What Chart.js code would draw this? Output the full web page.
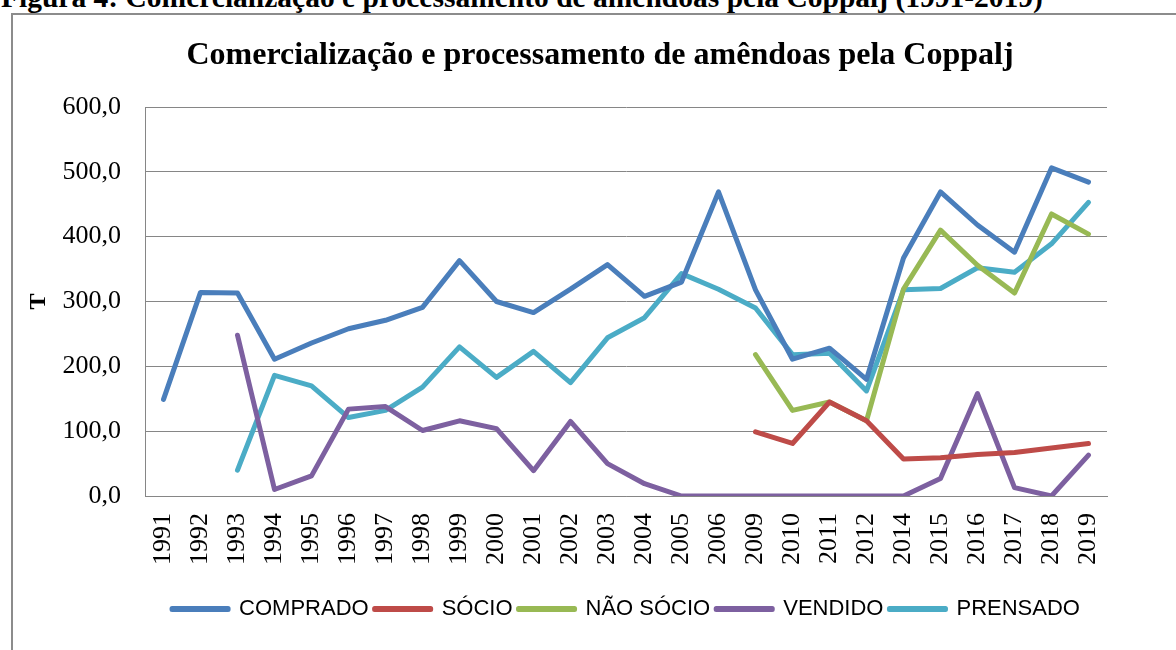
<!DOCTYPE html>
<html lang="pt-BR">
<head>
<meta charset="utf-8">
<title>Comercialização e processamento de amêndoas pela Coppalj</title>
<script src="https://cdn.jsdelivr.net/npm/chart.js@4.4.1/dist/chart.umd.min.js"></script>
<style>
  html, body { margin: 0; padding: 0; background: #fff; }
  body { width: 1176px; height: 650px; position: relative; overflow: hidden; font-family: 'Liberation Serif', 'Times New Roman', serif; color: #000; }
  #caption { position: absolute; left: 1px; top: -18px; font-size: 29.5px; line-height: 30px; font-weight: bold; white-space: nowrap; }
  #frame { position: absolute; left: 11px; top: 13px; right: -4px; bottom: -4px; border-left: 2px solid #8c8c8c; border-top: 2px solid #8c8c8c; }
  #title { position: absolute; left: 0; width: 1200px; top: 37px; text-align: center; font-size: 32px; line-height: 32px; font-weight: bold; white-space: nowrap; }
  #wrap { position: absolute; left: 0; top: 0; width: 1176px; height: 650px; }
</style>
</head>
<body>
<div id="caption">Figura 4: Comercialização e processamento de amêndoas pela Coppalj (1991-2019)</div>
<div id="frame"></div>
<div id="wrap"><canvas id="chart" width="1176" height="650"></canvas></div>
<div id="title">Comercialização e processamento de amêndoas pela Coppalj</div>

<script>
// anos (2007, 2008 e 2013 não aparecem no gráfico)
const YEARS = ['1991', '1992', '1993', '1994', '1995', '1996', '1997', '1998', '1999', '2000',
               '2001', '2002', '2003', '2004', '2005', '2006', '2009', '2010', '2011', '2012',
               '2014', '2015', '2016', '2017', '2018', '2019'];

const COMPRADO = [149, 314, 313, 211, 236, 258, 271, 291, 363, 300,
                  283, 319, 357, 308, 330, 469, 318, 211, 228, 180,
                  367, 469, 418, 376, 506, 484];

const SOCIO = [null, null, null, null, null, null, null, null, null, null,
               null, null, null, null, null, null, 99, 81, 145, 116,
               57, 59, 64, 67, 74, 81];

const NAO_SOCIO = [null, null, null, null, null, null, null, null, null, null,
                   null, null, null, null, null, null, 218, 132, 145, 116,
                   319, 410, 356, 313, 435, 404];

const VENDIDO = [null, null, 248, 10, 31, 134, 138, 101, 116, 104,
                 39, 115, 50, 19, 0, 0, 0, 0, 0, 0,
                 0, 27, 158, 13, 0, 63];

const PRENSADO = [null, null, 40, 186, 170, 121, 132, 168, 230, 183,
                  223, 175, 244, 275, 343, 319, 290, 218, 220, 162,
                  318, 320, 352, 345, 389, 453];

const Y_TICKS = [0, 100, 200, 300, 400, 500, 600];

const SERIES = [
    { label: 'COMPRADO', data: COMPRADO, color: '#4A7EBB' },
    { label: 'SÓCIO', data: SOCIO, color: '#BE4B48' },
    { label: 'NÃO SÓCIO', data: NAO_SOCIO, color: '#98B954' },
    { label: 'VENDIDO', data: VENDIDO, color: '#7D60A0' },
    { label: 'PRENSADO', data: PRENSADO, color: '#4BACC6' }
];

const GRID = '#868686';
const SERIF = "'Liberation Serif', 'Times New Roman', serif";

Chart.defaults.color = '#000';

const fmt = v => v.toFixed(1).replace('.', ',');

new Chart(document.getElementById('chart').getContext('2d'), {
    type: 'line',
    data: {
        labels: YEARS,
        datasets: SERIES.map(s => ({
            label: s.label,
            data: s.data,
            borderColor: s.color,
            backgroundColor: s.color,
            borderWidth: 5,
            borderCapStyle: 'round',
            borderJoinStyle: 'round',
            pointRadius: 0,
            pointHoverRadius: 0,
            tension: 0,
            spanGaps: false
        }))
    },
    options: {
        responsive: false,
        animation: false,
        devicePixelRatio: 1,
        layout: { padding: { top: 107, left: 20, right: 69, bottom: 20 } },
        plugins: {
            title: { display: false },
            tooltip: { enabled: false },
            legend: {
                position: 'bottom',
                fullSize: false,
                labels: {
                    boxWidth: 56,
                    boxHeight: 1,
                    padding: 6,
                    color: '#000',
                    font: { family: "'Liberation Sans', Arial, sans-serif", size: 22 }
                }
            }
        },
        scales: {
            x: {
                offset: true,
                grid: { display: false, drawTicks: false },
                border: { display: true, color: GRID, width: 1 },
                ticks: {
                    autoSkip: false,
                    minRotation: 90,
                    maxRotation: 90,
                    padding: 17,
                    color: '#000',
                    font: { family: SERIF, size: 26 }
                },
                afterFit: s => { s.height = 96; }
            },
            y: {
                min: 0,
                max: 600,
                afterBuildTicks: s => { s.ticks = Y_TICKS.map(v => ({ value: v })); },
                grid: { color: GRID, lineWidth: 1, drawTicks: false },
                border: { display: true, color: GRID, width: 1 },
                ticks: {
                    padding: 24,
                    color: '#000',
                    font: { family: SERIF, size: 26 },
                    callback: v => fmt(v)
                },
                title: {
                    display: true,
                    text: 'T',
                    color: '#000',
                    padding: { top: 4, bottom: 0 },
                    font: { family: SERIF, size: 24, weight: 'bold' }
                },
                afterFit: s => { s.width = 125; }
            }
        }
    }
});
</script>
</body>
</html>
